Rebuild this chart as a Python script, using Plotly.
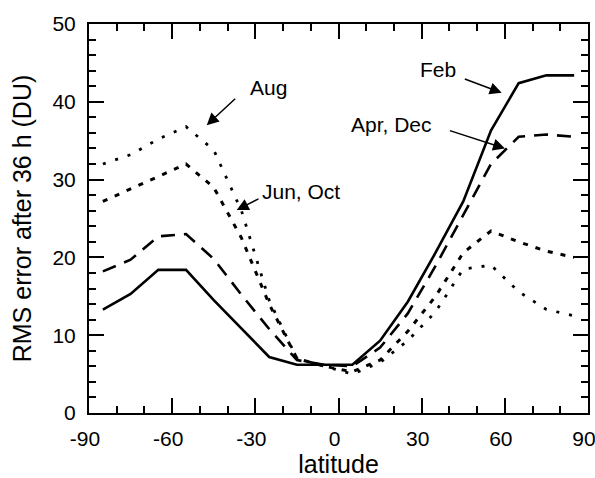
import plotly.graph_objects as go

lat = [-85, -75, -65, -55, -45, -35, -25, -15, -5, 5, 15, 25, 35, 45, 55, 65, 75, 85]
feb = [13.3, 15.3, 18.4, 18.4, 14.5, 10.8, 7.2, 6.2, 6.2, 6.2, 9.3, 14.3, 20.6, 27.2, 36.3, 42.4, 43.4, 43.4]
apr_dec = [18.2, 19.7, 22.7, 23.0, 19.8, 15.2, 10.8, 6.8, 6.2, 6.0, 8.4, 12.8, 18.9, 25.5, 32.0, 35.5, 35.8, 35.5]
jun_oct = [27.2, 28.8, 30.5, 32.0, 29.0, 22.5, 14.0, 7.0, 6.0, 5.3, 6.8, 10.5, 15.0, 20.6, 23.4, 22.0, 20.8, 20.0]
aug = [32.0, 33.2, 35.2, 36.8, 33.8, 26.0, 14.5, 7.0, 6.0, 5.0, 6.5, 9.3, 13.0, 18.5, 19.0, 15.6, 13.3, 12.5]

x_ticks = [-90, -60, -30, 0, 30, 60, 90]
y_ticks = [0, 10, 20, 30, 40, 50]

FONT = "Liberation Sans, Arial, Helvetica, sans-serif"

fig = go.Figure()
fig.add_trace(go.Scatter(x=lat, y=feb, mode="lines", name="Feb",
                         line=dict(color="black", width=2.6)))
fig.add_trace(go.Scatter(x=lat, y=apr_dec, mode="lines", name="Apr, Dec",
                         line=dict(color="black", width=2.6, dash="14px,9px")))
fig.add_trace(go.Scatter(x=lat, y=jun_oct, mode="lines", name="Jun, Oct",
                         line=dict(color="black", width=3, dash="5px,8px")))
fig.add_trace(go.Scatter(x=lat, y=aug, mode="lines", name="Aug",
                         line=dict(color="black", width=2.8, dash="3px,10px")))

# text labels
labels = [
    ("Aug", -25.25, 41.8),
    ("Jun, Oct", -13.5, 28.5),
    ("Feb", 35.9, 44.1),
    ("Apr, Dec", 18.95, 37.07),
]
for t, xx, yy in labels:
    fig.add_annotation(x=xx, y=yy, text=t, showarrow=False,
                       font=dict(family=FONT, size=21, color="black"))

# arrows: (tail_x, tail_y, tip_x, tip_y)
arrows = [
    (-36.72, 40.57, -47.54, 37.0),
    (-28.31, 27.62, -36.72, 26.08),
    (45.03, 43.0, 58.88, 41.16),
    (39.62, 36.36, 60.07, 34.01),
]
for ax_, ay_, x_, y_ in arrows:
    fig.add_annotation(x=x_, y=y_, ax=ax_, ay=ay_, axref="x", ayref="y",
                       text="", showarrow=True, arrowhead=2, arrowsize=1.6,
                       arrowwidth=1.5, arrowcolor="black")

axis_common = dict(
    showline=True, linecolor="black", linewidth=2, mirror="ticks",
    ticks="inside", tickwidth=2, ticklen=15, tickcolor="black",
    showgrid=False, zeroline=False,
    tickfont=dict(family=FONT, size=21, color="black"),
)

fig.update_xaxes(range=[-90, 90], tickvals=x_ticks, ticktext=[str(v) for v in x_ticks],
                 minor=dict(dtick=10, ticks="inside", ticklen=7, tickwidth=1.5, tickcolor="black"),
                 ticklabelstandoff=6, ticklabelshift=-4, ticklabeloverflow="allow",
                 title=dict(text="latitude", font=dict(family=FONT, size=25, color="black"), standoff=8),
                 **axis_common)
fig.update_yaxes(range=[0, 50], tickvals=y_ticks, ticktext=[str(v) for v in y_ticks],
                 minor=dict(dtick=2, ticks="inside", ticklen=7, tickwidth=1.5, tickcolor="black"),
                 ticklabelstandoff=7, ticklabeloverflow="allow",
                 title=dict(text="RMS error after 36 h (DU)", font=dict(family=FONT, size=25, color="black"), standoff=14),
                 **axis_common)

fig.update_layout(
    width=595, height=478,
    margin=dict(l=89, r=7, t=24, b=65, autoexpand=False),
    paper_bgcolor="white", plot_bgcolor="white",
    showlegend=False,
    font=dict(family=FONT, color="black"),
)

fig.write_html("out.html")
